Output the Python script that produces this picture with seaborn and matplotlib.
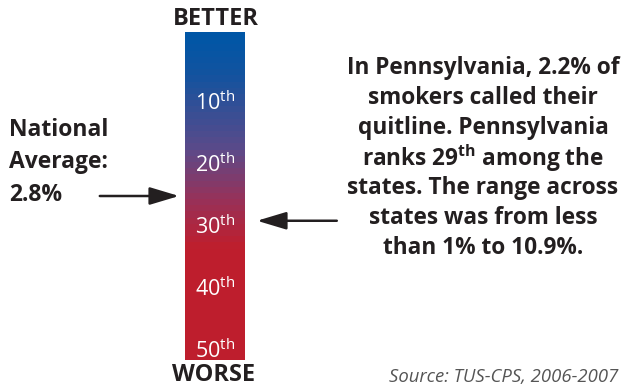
import numpy as np
import pandas as pd
import matplotlib
matplotlib.use("Agg")
import matplotlib.pyplot as plt
from matplotlib.colors import LinearSegmentedColormap
import seaborn as sns

# rank scale shown on the bar (rank -1 .. 51, one cell per rank)
bar_ranks = list(range(-1, 52))
label_ranks = [10, 20, 30, 40, 50]
national_rank = 25
state_rank = 29

left_lines = ["National", "Average:", "2.8%"]
right_lines = ["In Pennsylvania, 2.2% of",
               "smokers called their",
               "quitline. Pennsylvania",
               r"ranks 29$^{\mathbf{th}}$ among the",
               "states. The range across",
               "states was from less",
               "than 1% to 10.9%."]
source = "Source: TUS-CPS, 2006-2007"

sns.set_theme(style="white")
plt.rcParams['font.family'] = ['Open Sans', 'DejaVu Sans']
plt.rcParams['mathtext.fontset'] = 'custom'
plt.rcParams['mathtext.rm'] = 'Open Sans'
plt.rcParams['mathtext.bf'] = 'Open Sans:bold'

W, H = 623, 387
fig = plt.figure(figsize=(6.23, 3.87), dpi=100)

def fx(px):
    return px / W

def fy(py):
    return 1 - py / H

# gradient bar (blue = better, red = worse)
stops = [(0.0, "#0056a6"), (0.12, "#12539f"), (0.35, "#5a4a8a"),
         (0.52, "#9a3056"), (0.66, "#be1e2d"), (1.0, "#be1e2d")]
cmap = LinearSegmentedColormap.from_list("better_worse", stops)

ax = fig.add_axes([fx(185), fy(360), fx(245) - fx(185), fy(32) - fy(360)])
df = pd.DataFrame({"rank": bar_ranks}).set_index(pd.Index(bar_ranks))
sns.heatmap(df, ax=ax, cmap=cmap, cbar=False, xticklabels=False,
            yticklabels=False, vmin=min(bar_ranks), vmax=max(bar_ranks))
ax.set_xlabel("")
ax.set_ylabel("")

def pos(r):
    # heatmap row centre for a given rank
    return bar_ranks.index(r) + 0.5

for r in label_ranks:
    ax.text(0.5, pos(r), f"{r}$^{{\\mathrm{{th}}}}$", color="white",
            ha="center", va="center", fontsize=15.5)

arrow = dict(arrowstyle="-|>,head_length=1.5,head_width=0.45",
             color="#231f20", lw=1.8, shrinkA=0, shrinkB=0)
ax.annotate("", xy=(-0.1, pos(national_rank)), xycoords=("axes fraction", "data"),
            xytext=(-1.42, pos(national_rank)), textcoords=("axes fraction", "data"),
            arrowprops=arrow)
ax.annotate("", xy=(1.2, pos(state_rank)), xycoords=("axes fraction", "data"),
            xytext=(2.53, pos(state_rank)), textcoords=("axes fraction", "data"),
            arrowprops=arrow)

fig.text(fx(216), fy(19), "BETTER", ha="center", va="center",
         fontsize=17, fontweight="bold", color="#231f20")
fig.text(fx(214), fy(375), "WORSE", ha="center", va="center",
         fontsize=17, fontweight="bold", color="#231f20")

for i, line in enumerate(left_lines):
    fig.text(fx(9), fy(130 + i * 32.5), line, ha="left", va="center",
             fontsize=16.5, fontweight="bold", color="#231f20")

for i, line in enumerate(right_lines):
    fig.text(fx(483), fy(68 + i * 30), line, ha="center", va="center",
             fontsize=16.3, fontweight="bold", color="#231f20")

fig.text(fx(389), fy(377), source, ha="left", va="center", fontsize=13.3,
         style="italic", color="#555555")

fig.savefig("out.png", dpi=100)
